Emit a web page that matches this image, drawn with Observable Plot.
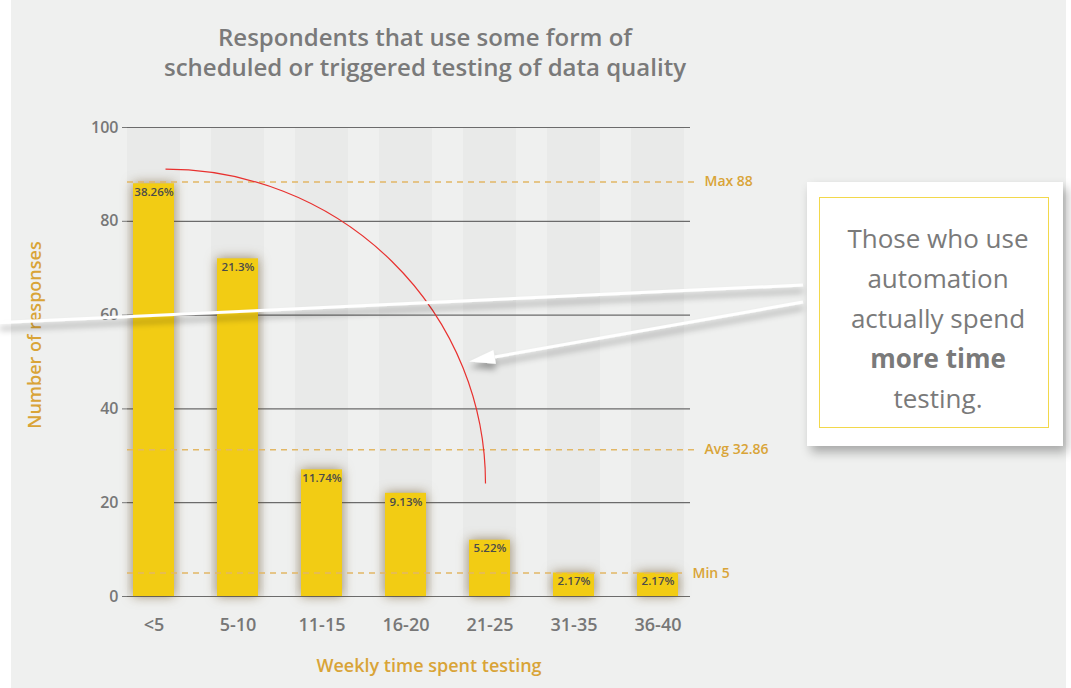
<!DOCTYPE html>
<html><head><meta charset="utf-8">
<script src="https://cdn.jsdelivr.net/npm/d3@7"></script>
<script src="https://cdn.jsdelivr.net/npm/@observablehq/plot@0.6"></script>
<style>
body{margin:0;background:#fff;font-family:"Open Sans",sans-serif;}
#wrap{position:relative;width:1071px;height:688px;overflow:hidden;}
#panel{position:absolute;left:11px;top:0;width:1055px;height:688px;background:#eff0ef;}
#title{position:absolute;left:11px;width:828px;top:22px;text-align:center;font-size:24px;font-weight:600;color:#7a7a7a;line-height:30px;}
#chart{position:absolute;left:0;top:100px;}
#box{position:absolute;left:807px;top:182px;width:256px;height:264px;background:#fff;box-shadow:4px 6px 10px rgba(0,0,0,0.3);}
#inner{position:absolute;left:12px;top:15px;width:230px;height:231px;border:1.5px solid #f2d84b;text-align:center;font-size:26px;line-height:40px;color:#7a7a7a;padding-top:20px;padding-left:8px;box-sizing:border-box;}
#inner b{font-weight:700;}
</style></head>
<body>
<div id="wrap">
  <div id="panel"></div>
  <div id="title">Respondents that use some form of<br>scheduled or triggered testing of data quality</div>
  <div id="chart"></div>
  <div id="box"><div id="inner">Those who use<br>automation<br>actually spend<br><b>more time</b><br>testing.</div></div>
</div>
<script>
const categories = ["<5","5-10","11-15","16-20","21-25","31-35","36-40"];
const responses = [88,72,27,22,12,5,5];
const percentLabels = ["38.26%","21.3%","11.74%","9.13%","5.22%","2.17%","2.17%"];
const yTicks = [0,20,40,60,80,100];
const refValues = [88.4, 31.3, 5];
const refLabels = ["Max 88","Avg 32.86","Min 5"];
const yLabel = "Number of responses";
const xLabel = "Weekly time spent testing";
// annotation anchors in data space
const arcStart = {cat:"<5", shift:12, value:91};
const arcEnd = {cat:"21-25", shift:-4, value:24};
const arrowTip = {cat:"21-25", shift:0, value:50};
const lineLeft = {value:58.3};

const data = categories.map((c,i)=>({cat:c, n:responses[i], pct:percentLabels[i]}));
const refs = refValues.map((v,i)=>({v, label:refLabels[i]}));

const gold = "#d9a437";
const plot = Plot.plot({
  width:1071, height:588,
  marginLeft:127, marginRight:381, marginTop:27, marginBottom:92,
  style:{background:"transparent", fontFamily:"Open Sans", overflow:"visible"},
  x:{domain:categories, paddingInner:0.5095, paddingOuter:0.0974, align:0.35, label:null},
  y:{domain:[0,100], label:null},
  marks:[
    Plot.barY(categories, {x:d=>d, y:()=>100, fill:"#e9eae9", insetLeft:-6, insetRight:-6}),
    Plot.ruleY(yTicks, {stroke:"#6b6b6b", strokeWidth:1.2}),
    Plot.barY(data, {x:"cat", y:"n", fill:"#f2cc14", imageFilter:"drop-shadow(0 0 6px rgba(100,70,20,0.6))"}),
    Plot.ruleY(refs.slice(0,2), {y:"v", stroke:"#e2b766", strokeWidth:1.5, strokeDasharray:"6,5", insetRight:-7}),
    Plot.ruleY(refs.slice(2), {y:"v", stroke:"#e2b766", strokeWidth:1.5, strokeDasharray:"6,5", insetRight:8}),
    Plot.text(refs.slice(0,2), {y:"v", text:"label", frameAnchor:"right", textAnchor:"start", dx:14, fill:gold, fontSize:14, fontWeight:600}),
    Plot.text(refs.slice(2), {y:"v", text:"label", frameAnchor:"right", textAnchor:"start", dx:2, fill:gold, fontSize:14, fontWeight:600}),
    Plot.text(data, {x:"cat", y:"n", text:"pct", dy:8.5, fill:"#4b4b4b", fontSize:11.5, fontWeight:600}),
    Plot.axisY({ticks:yTicks, tickSize:5, tickPadding:4, fontSize:16, fontWeight:600, color:"#777", label:null}),
    Plot.axisX({tickSize:0, tickPadding:22, fontSize:18, fontWeight:600, color:"#777", label:null}),
    Plot.text([yLabel], {text:d=>d, frameAnchor:"left", textAnchor:"middle", dx:-92, dy:-27, rotate:-90, fill:gold, fontSize:18, fontWeight:600}),
    Plot.text([xLabel], {text:d=>d, frameAnchor:"bottom", dx:20, dy:75, fill:gold, fontSize:18, fontWeight:600})
  ]
});
document.getElementById("chart").appendChild(plot);

// annotations via the plot's own scales
const xs = plot.scale("x"), ys = plot.scale("y");
const bw = xs.bandwidth;
const px = a => xs.apply(a.cat) + bw/2 + a.shift;
const svg = d3.select(plot);
const defs = svg.append("defs");
const f = defs.append("filter").attr("id","sh").attr("x","-10%").attr("y","-50%").attr("width","120%").attr("height","300%");
f.append("feDropShadow").attr("dx",0).attr("dy",6).attr("stdDeviation",3).attr("flood-color","#000").attr("flood-opacity",0.35);

const sx = px(arcStart), sy = ys.apply(arcStart.value);
const ex = px(arcEnd), ey = ys.apply(arcEnd.value);
svg.append("path").attr("d",`M${sx},${sy} A${ex-sx},${ey-sy} 0 0 1 ${ex},${ey}`)
  .attr("fill","none").attr("stroke","#e8312f").attr("stroke-width",1.2);

const ann = svg.append("g").attr("filter","url(#sh)");
const boxX = 803, l1y = 185, l2y = 202;
ann.append("line").attr("x1",boxX).attr("y1",l1y).attr("x2",0).attr("y2",ys.apply(lineLeft.value))
  .attr("stroke","#fff").attr("stroke-width",3);
const tx = xs.apply(arrowTip.cat) + arrowTip.shift, ty = ys.apply(arrowTip.value);
const dxv = boxX - tx, dyv = l2y - ty, L = Math.hypot(dxv,dyv);
const ux = dxv/L, uy = dyv/L, hl = 26, hw = 7;
const bx = tx + ux*hl, by = ty + uy*hl;
ann.append("line").attr("x1",boxX).attr("y1",l2y).attr("x2",bx).attr("y2",by)
  .attr("stroke","#fff").attr("stroke-width",3);
ann.append("path").attr("d",`M${tx},${ty} L${bx - uy*hw},${by + ux*hw} L${bx + uy*hw},${by - ux*hw} Z`).attr("fill","#fff");
</script>
</body></html>
